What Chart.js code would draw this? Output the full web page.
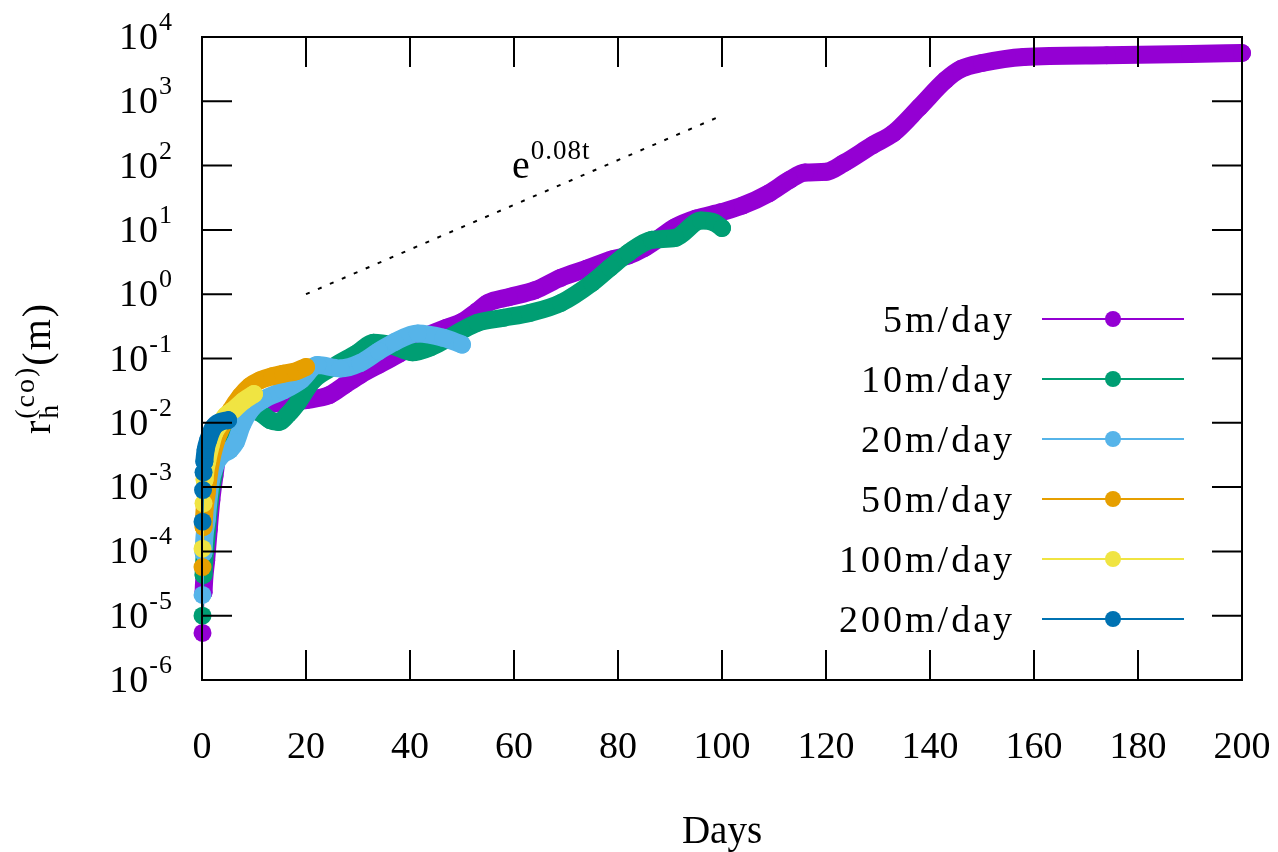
<!DOCTYPE html>
<html>
<head>
<meta charset="utf-8">
<script src="https://cdn.jsdelivr.net/npm/chart.js@4.4.1/dist/chart.umd.min.js"></script>
<style>
  html, body { margin: 0; padding: 0; background: #fff; overflow: hidden; }
  canvas { display: block; }
</style>
</head>
<body>
<canvas id="chart" width="1278" height="852"></canvas>
<script>
const speeds = ['5m/day', '10m/day', '20m/day', '50m/day', '100m/day', '200m/day'];
const colors = ['#9400d3', '#009e73', '#56b4e9', '#e69f00', '#f0e442', '#0072b2'];

// days / radius (m)
const t5 = [0.1, 0.3, 0.8, 1.3, 1.8, 2.4, 3.0, 4.0, 5.5, 8, 11, 15, 20, 24.5, 27.5, 30.5, 34, 38, 43, 47,
            50, 53, 55, 59, 64, 69, 74, 79, 82, 85, 88, 91, 95, 100, 104, 109, 113, 116, 120, 123.5,
            129, 133, 138, 143, 146, 150, 158, 174, 190, 200];
const r5 = [5.4e-6, 2.3e-5, 7.3e-5, 2.2e-4, 6.3e-4, 1.5e-3, 3.2e-3, 6.0e-3, 1.03e-2, 1.58e-2, 1.89e-2, 2.03e-2, 2.26e-2, 2.7e-2, 3.9e-2, 5.6e-2, 8.0e-2, 0.12, 0.22, 0.30,
            0.37, 0.55, 0.73, 0.90, 1.15, 1.8, 2.5, 3.5, 4.0, 5.2, 7.5, 11, 15, 19, 24, 37, 60, 78, 80, 110,
            209, 321, 815, 2140, 3200, 3940, 4890, 5200, 5440, 5640];

const t10 = [0.1, 0.3, 0.8, 1.4, 2.2, 3.1, 4.5, 6.4, 8.9, 11.2, 13.1, 14.7, 16.6, 18.3, 21.4, 25.2, 29.9, 33, 36.5, 40.5,
             44, 47, 53, 58, 63, 69, 75, 78.5, 82, 86.5, 91, 96, 98.5, 100];
const r10 = [1.0e-5, 4.3e-5, 1.5e-4, 5.2e-4, 1.5e-3, 3.8e-3, 7.8e-3, 1.3e-2, 1.58e-2, 1.43e-2, 1.1e-2, 1.03e-2, 1.37e-2, 2.0e-2, 4.6e-2, 7.4e-2, 0.122, 0.175, 0.16, 0.125,
             0.15, 0.2, 0.36, 0.43, 0.51, 0.73, 1.5, 2.6, 4.4, 7.0, 7.5, 14, 13, 10.7];

const t20 = [0.1, 0.3, 0.9, 1.6, 2.6, 3.9, 5.4, 6.5, 7.7, 9.4, 11.8, 15.7, 19, 22.2, 26.6, 30.4, 34, 37, 41.5, 46.4, 50];
const r20 = [2.1e-5, 9.5e-5, 3.1e-4, 1.08e-3, 2.2e-3, 3.2e-3, 3.8e-3, 5.0e-3, 9.3e-3, 1.6e-2, 2.3e-2, 3.2e-2, 4.6e-2, 7.9e-2, 7.0e-2, 8.5e-2, 0.13, 0.18, 0.245, 0.21, 0.165];

const t50 = [0.1, 0.3, 0.9, 1.6, 2.6, 4.0, 5.5, 7.4, 9.2, 11.2, 13.5, 15.6, 18, 20];
const r50 = [5.7e-5, 2.4e-4, 8.0e-4, 2.2e-3, 4.9e-3, 9.3e-3, 1.55e-2, 2.6e-2, 3.7e-2, 4.6e-2, 5.3e-2, 5.8e-2, 6.3e-2, 7.4e-2];

const t100 = [0.1, 0.3, 0.5, 1.0, 1.7, 2.4, 3.4, 4.6, 6.1, 8.0, 10];
const r100 = [1.1e-4, 5.6e-4, 1.3e-3, 2.5e-3, 4.5e-3, 7.0e-3, 9.5e-3, 1.3e-2, 1.6e-2, 2.2e-2, 2.8e-2];

const t200 = [0.1, 0.2, 0.3, 0.45, 0.7, 1.2, 2.2, 3.5, 5.0];
const r200 = [2.9e-4, 9.0e-4, 1.7e-3, 2.5e-3, 3.8e-3, 5.4e-3, 8.5e-3, 1.03e-2, 1.1e-2];

// e^{0.08t} guide line
const refT = [20, 100];
const refR = [1, 602];

const xTicks = [0, 20, 40, 60, 80, 100, 120, 140, 160, 180, 200];
const yTicks = [1e-6, 1e-5, 1e-4, 1e-3, 1e-2, 1e-1, 1e0, 1e1, 1e2, 1e3, 1e4];

const times = [t5, t10, t20, t50, t100, t200];
const radii = [r5, r10, r20, r50, r100, r200];

const FONT = '"Liberation Serif", "Times New Roman", serif';
const BIG = 37, SMALL = 26, TICK = 30, BAND = 18;

// draws text pieces [{text, size, dy, stack}] left to right from (x, y)
function drawRun(ctx, parts, x, y) {
    let cx = x;
    parts.forEach(p => {
        ctx.font = p.size + 'px ' + FONT;
        ctx.fillText(p.text, cx, y + (p.dy || 0));
        if (!p.stack) cx += ctx.measureText(p.text).width;
    });
    return cx - x;
}

function runWidth(ctx, parts) {
    let w = 0;
    parts.forEach(p => {
        ctx.font = p.size + 'px ' + FONT;
        if (!p.stack) w += ctx.measureText(p.text).width;
    });
    return w;
}

const decorations = {
    id: 'decorations',
    afterDatasetsDraw(chart) {
        const {ctx, chartArea: a, scales: {x, y}} = chart;
        ctx.save();
        ctx.strokeStyle = '#000';
        ctx.fillStyle = '#000';
        ctx.lineWidth = 2;

        // inward ticks on all four sides
        ctx.beginPath();
        xTicks.forEach(v => {
            const px = x.getPixelForValue(v);
            ctx.moveTo(px, a.bottom); ctx.lineTo(px, a.bottom - TICK);
            ctx.moveTo(px, a.top); ctx.lineTo(px, a.top + TICK);
        });
        yTicks.forEach(v => {
            const py = y.getPixelForValue(v);
            ctx.moveTo(a.left, py); ctx.lineTo(a.left + TICK, py);
            ctx.moveTo(a.right, py); ctx.lineTo(a.right - TICK, py);
        });
        ctx.stroke();
        ctx.strokeRect(a.left, a.top, a.right - a.left, a.bottom - a.top);

        // y tick labels 10^n
        ctx.textAlign = 'left';
        ctx.textBaseline = 'alphabetic';
        ctx.letterSpacing = '1px';
        yTicks.forEach(v => {
            const py = y.getPixelForValue(v);
            const e = Math.round(Math.log10(v));
            const parts = [{text: '10', size: BIG + 1, dy: 12}, {text: String(e), size: SMALL, dy: -7}];
            const w = runWidth(ctx, parts);
            drawRun(ctx, parts, a.left - 29 - w, py);
        });

        // y axis title r_h^(co)(m)
        ctx.save();
        ctx.letterSpacing = '2px';
        ctx.translate(50, 368);
        ctx.rotate(-Math.PI / 2);
        const title = [
            {text: 'r', size: 40},
            {text: 'h', size: 28, dy: 8, stack: true},
            {text: '(co)', size: 28, dy: -16},
            {text: '(m)', size: 40}
        ];
        const tw = runWidth(ctx, title);
        drawRun(ctx, title, -tw / 2, 0);
        ctx.restore();

        // e^{0.08t} label
        ctx.letterSpacing = '1px';
        drawRun(ctx, [{text: 'e', size: BIG + 3}, {text: '0.08t', size: SMALL + 1, dy: -19}],
            x.getPixelForValue(59.6), y.getPixelForValue(70) + 2);

        // legend
        ctx.letterSpacing = '3px';
        speeds.forEach((s, i) => {
            const ly = 319 + i * 60;
            ctx.font = (BIG + 1) + 'px ' + FONT;
            ctx.textAlign = 'right';
            ctx.fillStyle = '#000';
            ctx.fillText(s, 1015, ly + 13);
            ctx.strokeStyle = colors[i];
            ctx.lineWidth = 2;
            ctx.beginPath();
            ctx.moveTo(1042, ly); ctx.lineTo(1184, ly);
            ctx.stroke();
            ctx.fillStyle = colors[i];
            ctx.beginPath();
            ctx.arc(1113, ly, 8, 0, Math.PI * 2);
            ctx.fill();
        });
        ctx.restore();
    }
};

const datasets = speeds.map((s, i) => ({
    label: s,
    data: times[i].map((t, k) => ({x: t, y: radii[i][k]})),
    borderColor: colors[i],
    backgroundColor: colors[i],
    pointBackgroundColor: colors[i],
    pointBorderWidth: 0,
    pointRadius: BAND / 2,
    borderWidth: BAND,
    borderCapStyle: 'round',
    borderJoinStyle: 'round',
    cubicInterpolationMode: 'monotone',
    // first samples near t=0 are separate dots joined by a thin line
    segment: { borderWidth: ctx => ctx.p1.parsed.x <= 0.5 ? 2 : BAND },
    clip: false,
    order: 10 - i
}));

datasets.push({
    label: 'e^0.08t',
    data: refT.map((t, k) => ({x: t, y: refR[k]})),
    borderColor: '#000',
    borderWidth: 2,
    borderDash: [4, 9],
    pointRadius: 0,
    order: 0
});

new Chart(document.getElementById('chart'), {
    type: 'line',
    data: { datasets },
    options: {
        responsive: false,
        animation: false,
        events: [],
        layout: { padding: { top: 37, right: 36, left: 0, bottom: 0 } },
        scales: {
            x: {
                type: 'linear',
                min: 0,
                max: 200,
                grid: { display: false },
                border: { display: false },
                afterBuildTicks: s => { s.ticks = xTicks.map(v => ({value: v})); },
                afterFit: s => { s.height = 172; s.paddingLeft = 0; s.paddingRight = 0; },
                ticks: {
                    color: '#000',
                    padding: 37,
                    maxRotation: 0,
                    font: { family: FONT, size: BIG + 1 }
                },
                title: {
                    display: true,
                    text: 'Days',
                    color: '#000',
                    font: { family: FONT, size: BIG + 2 },
                    padding: { top: 0, bottom: -4 }
                }
            },
            y: {
                type: 'logarithmic',
                min: 1e-6,
                max: 1e4,
                grid: { display: false },
                border: { display: false },
                afterBuildTicks: s => { s.ticks = yTicks.map(v => ({value: v})); },
                afterFit: s => { s.width = 202; s.paddingTop = 0; s.paddingBottom = 0; },
                ticks: { display: false }
            }
        },
        plugins: {
            legend: { display: false },
            tooltip: { enabled: false }
        }
    },
    plugins: [decorations]
});
</script>
</body>
</html>
